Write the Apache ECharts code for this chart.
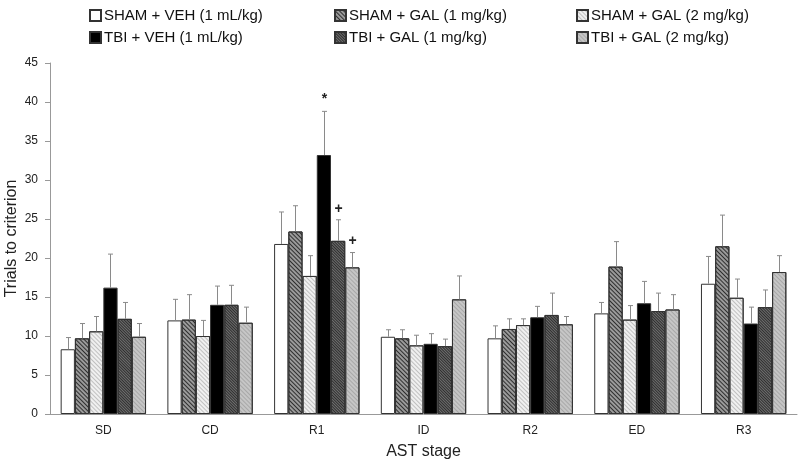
<!DOCTYPE html>
<html>
<head>
<meta charset="utf-8">
<script src="https://cdn.jsdelivr.net/npm/echarts@6/dist/echarts.min.js"></script>
<style>html,body{margin:0;padding:0;background:#fff}#c{width:800px;height:463px}</style>
</head>
<body>
<div id="c"></div>
<script>
const categories = ['SD', 'CD', 'R1', 'ID', 'R2', 'ED', 'R3'];
const seriesNames = ['SHAM + VEH (1 mL/kg)', 'SHAM + GAL (1 mg/kg)', 'SHAM + GAL (2 mg/kg)',
                     'TBI + VEH (1 mL/kg)', 'TBI + GAL (1 mg/kg)', 'TBI + GAL (2 mg/kg)'];
const shamVeh  = [8.3, 12.0, 21.8, 9.9, 9.7, 12.9, 16.7];
const shamGal1 = [9.7, 12.1, 23.4, 9.7, 10.9, 18.9, 21.5];
const shamGal2 = [10.6, 10.0, 17.7, 8.8, 11.4, 12.1, 14.9];
const tbiVeh   = [16.2, 14.0, 33.2, 9.0, 12.4, 14.2, 11.6];
const tbiGal1  = [12.2, 14.0, 22.2, 8.7, 12.7, 13.2, 13.7];
const tbiGal2  = [9.9, 11.7, 18.8, 14.7, 11.5, 13.4, 18.2];
const shamVehErr  = [1.5, 2.7, 4.1, 0.9, 1.6, 1.4, 3.5];
const shamGal1Err = [1.9, 3.2, 3.3, 1.1, 1.3, 3.2, 4.0];
const shamGal2Err = [1.9, 2.0, 2.6, 1.3, 0.8, 1.8, 2.4];
const tbiVehErr   = [4.3, 2.4, 5.6, 1.3, 1.4, 2.8, 2.1];
const tbiGal1Err  = [2.1, 2.5, 2.7, 0.9, 2.8, 2.3, 2.2];
const tbiGal2Err  = [1.7, 2.0, 1.9, 3.0, 1.0, 1.9, 2.1];
// significance marks: [seriesIndex, categoryIndex, symbol]
const marks = [[3, 2, '*'], [4, 2, '+'], [5, 2, '+']];
const yTicks = [0, 5, 10, 15, 20, 25, 30, 35, 40, 45];

const values = [shamVeh, shamGal1, shamGal2, tbiVeh, tbiGal1, tbiGal2];
const errors = [shamVehErr, shamGal1Err, shamGal2Err, tbiVehErr, tbiGal1Err, tbiGal2Err];

const R = Math.PI / 4;
const styles = [
  { color: '#ffffff' },
  { color: '#9a9a9a', decal: { symbol: 'rect', symbolSize: 1, dashArrayX: [1, 0], dashArrayY: [1, 1.5], rotation: R, color: 'rgba(20,20,20,0.8)' } },
  { color: '#f0f0f0', decal: { symbol: 'rect', symbolSize: 1, dashArrayX: [1, 0], dashArrayY: [1, 1.5], rotation: R, color: 'rgba(160,160,160,0.6)' } },
  { color: '#000000' },
  { color: '#6e6e6e', decal: { symbol: 'rect', symbolSize: 1, dashArrayX: [1, 0], dashArrayY: [1, 1], rotation: R, color: 'rgba(25,25,25,0.75)' } },
  { color: '#c6c6c6', decal: { symbol: 'rect', symbolSize: 1, dashArrayX: [1, 0], dashArrayY: [1, 1.5], rotation: R, color: 'rgba(130,130,130,0.45)' } }
];

const barSeries = values.map((vals, i) => ({
  name: seriesNames[i],
  type: 'bar',
  data: vals,
  barGap: '0%',
  barCategoryGap: '20%',
  itemStyle: Object.assign({ borderColor: '#333', borderWidth: 1 }, styles[i]),
  emphasis: { disabled: true }
}));

const errData = [];
values.forEach((vals, s) => {
  vals.forEach((v, c) => {
    const m = marks.find(mk => mk[0] === s && mk[1] === c);
    errData.push([c, s, v, errors[s][c], m ? m[2] : '']);
  });
});

const errSeries = {
  type: 'custom',
  name: 'err',
  data: errData,
  encode: { x: 0, y: 2 },
  z: 5,
  silent: true,
  renderItem: function (params, api) {
    const c = api.value(0), s = api.value(1), v = api.value(2), e = api.value(3);
    const mk = errData[params.dataIndex][4];
    const band = api.size([1, 0])[0];
    const bw = band * 0.8 / 6;
    const base = api.coord([c, v]);
    const top = api.coord([c, v + e]);
    const x = Math.round(base[0] + (s - 2.5) * bw) + 0.5;
    const children = [
      { type: 'line', shape: { x1: x, y1: base[1], x2: x, y2: top[1] }, style: { stroke: '#8a8a8a', lineWidth: 1 } },
      { type: 'line', shape: { x1: x - 2.5, y1: top[1], x2: x + 2.5, y2: top[1] }, style: { stroke: '#8a8a8a', lineWidth: 1 } }
    ];
    if (mk) {
      children.push({ type: 'text', style: { text: mk, x: x, y: top[1] - (mk === '*' ? 5 : 4), align: 'center', verticalAlign: 'bottom', font: 'bold 14px "Liberation Sans", Arial', fill: '#222' } });
    }
    return { type: 'group', children: children };
  }
};

const legendBase = {
  orient: 'vertical',
  top: 3,
  itemWidth: 11,
  itemHeight: 11,
  itemGap: 7,
  icon: 'rect',
  textStyle: { fontFamily: '"Liberation Sans", Arial', fontSize: 15, color: '#111', padding: [0, 0, 0, -2] },
  selectedMode: false
};

const chart = echarts.init(document.getElementById('c'));
chart.setOption({
  animation: false,
  backgroundColor: '#ffffff',
  legend: [
    Object.assign({}, legendBase, { left: 84, data: [seriesNames[0], seriesNames[3]] }),
    Object.assign({}, legendBase, { left: 329, data: [seriesNames[1], seriesNames[4]] }),
    Object.assign({}, legendBase, { left: 571, data: [seriesNames[2], seriesNames[5]] })
  ],
  grid: { left: 50, right: 3, top: 63, bottom: 49, containLabel: false, outerBoundsMode: 'none' },
  xAxis: {
    type: 'category',
    data: categories,
    name: 'AST stage',
    nameLocation: 'middle',
    nameGap: 30,
    nameMoveOverlap: false,
    nameTextStyle: { fontFamily: '"Liberation Sans", Arial', fontSize: 16, color: '#222' },
    axisLine: { lineStyle: { color: '#999', width: 1 } },
    axisTick: { show: false },
    axisLabel: { fontFamily: '"Liberation Sans", Arial', fontSize: 12, color: '#222', margin: 11 }
  },
  yAxis: {
    type: 'value',
    min: yTicks[0],
    max: yTicks[yTicks.length - 1],
    interval: yTicks[1] - yTicks[0],
    name: 'Trials to criterion',
    nameLocation: 'middle',
    nameGap: 30,
    nameMoveOverlap: false,
    nameTextStyle: { fontFamily: '"Liberation Sans", Arial', fontSize: 16, color: '#222' },
    axisLine: { show: true, lineStyle: { color: '#999', width: 1 } },
    axisTick: { show: true, length: 5, lineStyle: { color: '#999' } },
    splitLine: { show: false },
    axisLabel: { fontFamily: '"Liberation Sans", Arial', fontSize: 12, color: '#222', margin: 12 }
  },
  series: barSeries.concat([errSeries])
});
</script>
</body>
</html>
